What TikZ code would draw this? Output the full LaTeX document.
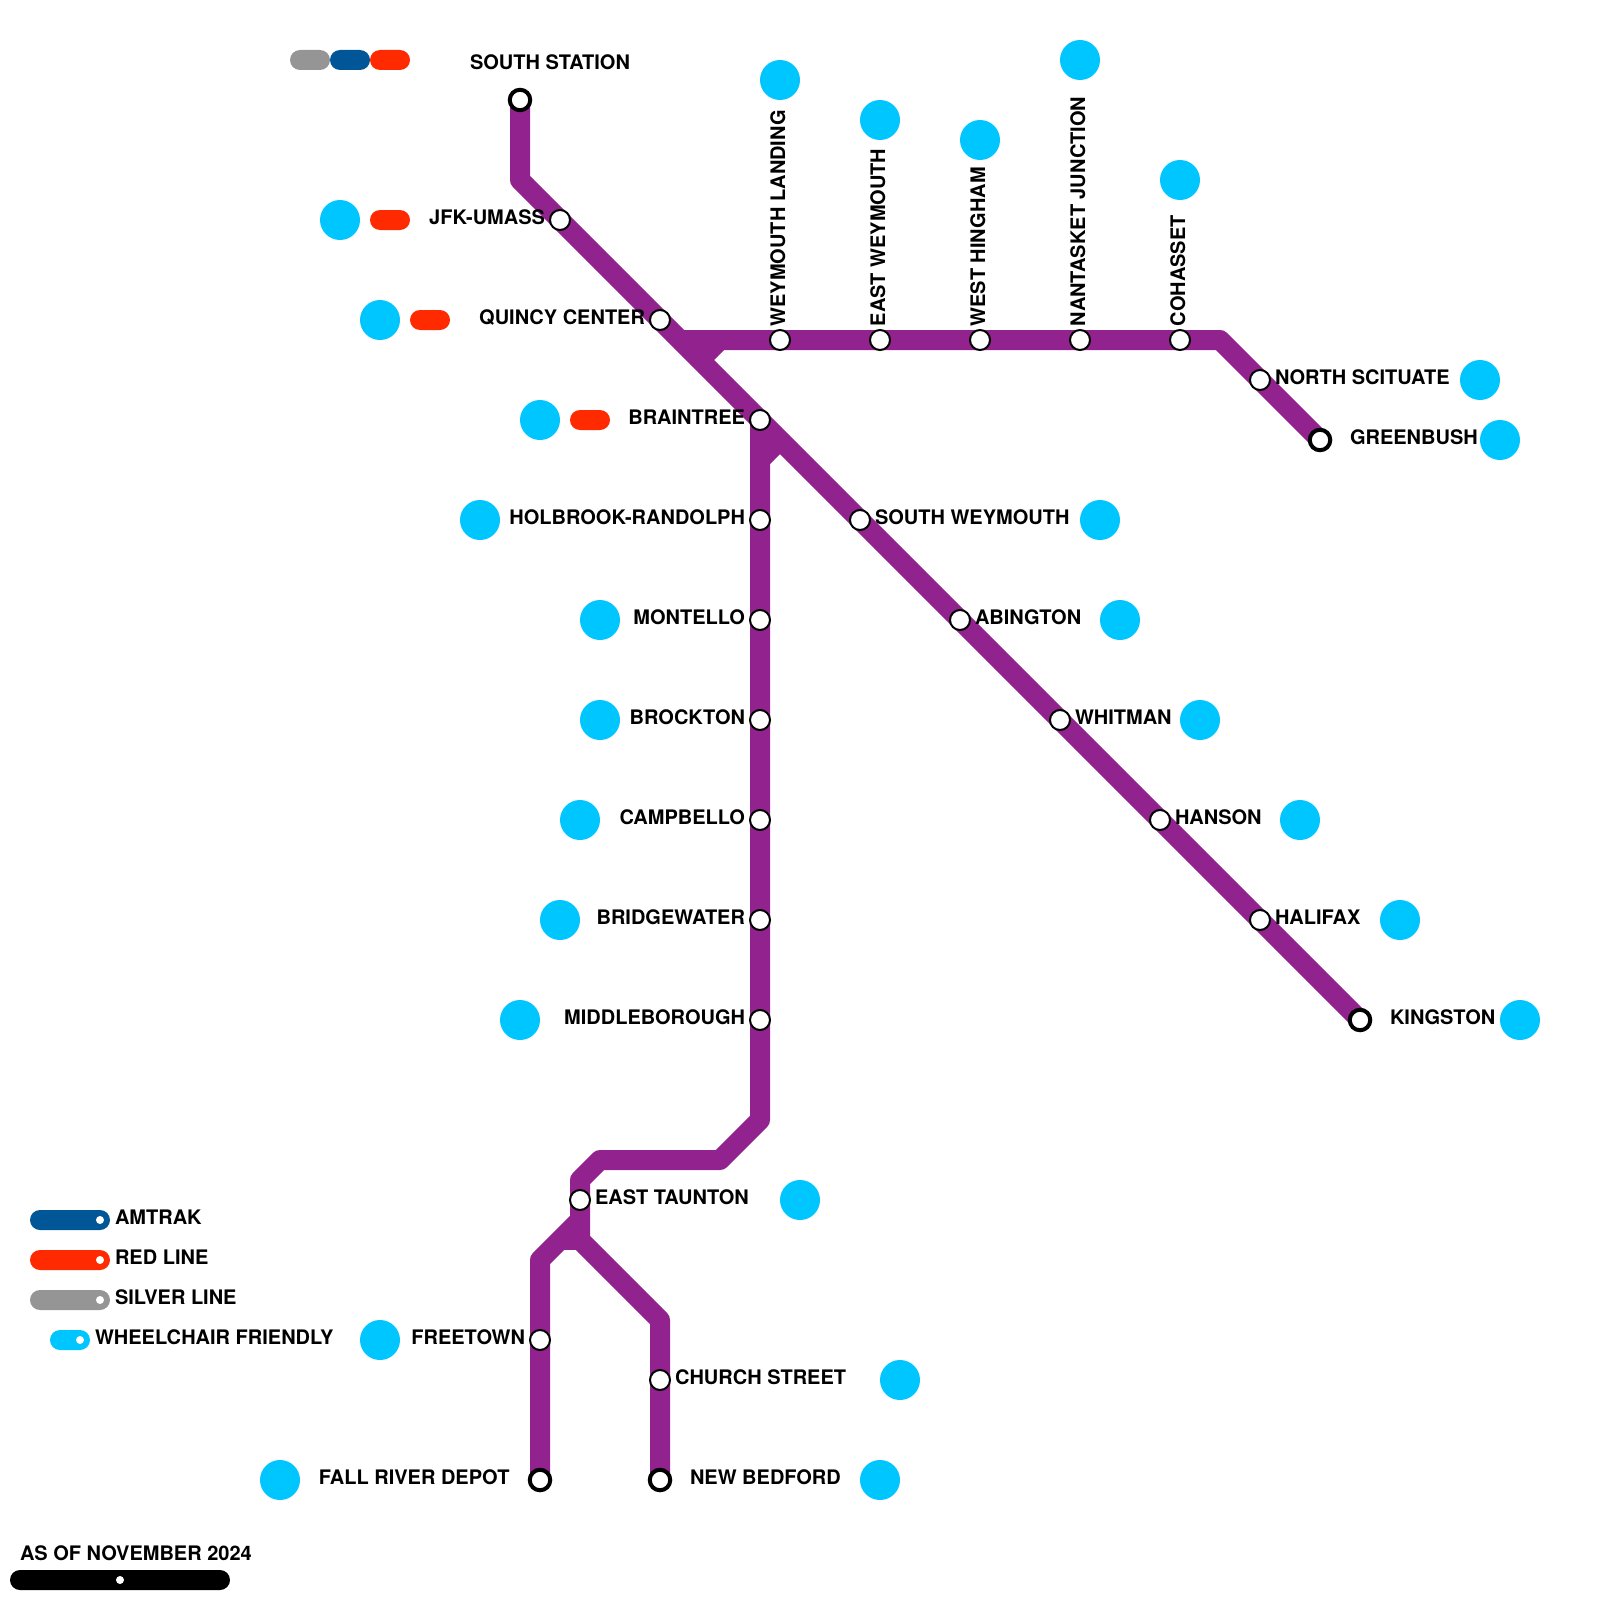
\documentclass[tikz,border=0pt]{standalone}
\usepackage{fontspec}
\setmainfont{TeX Gyre Heros}
\usetikzlibrary{positioning,backgrounds}
\definecolor{oldcolony}{HTML}{92228E}
\definecolor{access}{HTML}{00C6FF}
\definecolor{amtrak}{HTML}{005696}
\definecolor{redline}{HTML}{FF2A00}
\definecolor{silver}{HTML}{959595}

\begin{document}
\begin{tikzpicture}[x=1pt,y=-1pt,
    track/.style={draw=oldcolony, line width=20pt, line join=round},
    station/.style={circle, draw=black, fill=white, line width=2pt, minimum size=20pt, inner sep=0pt, outer sep=0pt},
    terminal/.style={circle, draw=black, fill=white, line width=4pt, minimum size=20.5pt, inner sep=0pt, outer sep=0pt},
    wheel/.style={circle, fill=access, minimum size=40pt, inner sep=0pt, outer sep=0pt},
    pill/.style={rectangle, rounded corners=10pt, minimum height=20pt, minimum width=40pt, inner sep=0pt, outer sep=0pt},
    pip/.style={circle, fill=white, minimum size=8pt, inner sep=0pt, outer sep=0pt},
    lbl/.style={font=\bfseries\fontsize{20}{24}\selectfont, inner sep=0pt, outer sep=0pt, text height=14.3pt, text depth=0pt, yshift=3pt}]
    \useasboundingbox (0,0) rectangle (1600,1600);

    %% Main line, Kingston branch
    \node[terminal] (south) at (520,100) {};
    \node[station] (jfk) at (560,220) {};
    \node[station] (quincy) at (660,320) {};
    \node[station] (sweymouth) at (860,520) {};
    \node[station] (abington) at (960,620) {};
    \node[station] (whitman) at (1060,720) {};
    \node[station] (hanson) at (1160,820) {};
    \node[station] (halifax) at (1260,920) {};
    \node[terminal] (kingston) at (1360,1020) {};

    %% Greenbush branch
    \node[station] (landing) at (780,340) {};
    \node[station] (eweymouth) at (880,340) {};
    \node[station] (hingham) at (980,340) {};
    \node[station] (nantasket) at (1080,340) {};
    \node[station] (cohasset) at (1180,340) {};
    \node[station] (scituate) at (1260,380) {};
    \node[terminal] (greenbush) at (1320,440) {};

    %% Middleborough branch
    \node[station] (braintree) at (760,420) {};
    \node[station] (holbrook) at (760,520) {};
    \node[station] (montello) at (760,620) {};
    \node[station] (brockton) at (760,720) {};
    \node[station] (campbello) at (760,820) {};
    \node[station] (bridgewater) at (760,920) {};
    \node[station] (middleborough) at (760,1020) {};
    \node[station] (taunton) at (580,1200) {};
    \node[station] (freetown) at (540,1340) {};
    \node[terminal] (fallriver) at (540,1480) {};
    \node[station] (church) at (660,1380) {};
    \node[terminal] (bedford) at (660,1480) {};

    %% Bends and junctions
    \coordinate (bendA) at (520,180);
    \coordinate (wyeA) at (680,340);
    \coordinate (hookA) at (700,360);
    \coordinate (hookB) at (720,340);
    \coordinate (bendB) at (1220,340);
    \coordinate (hookC) at (780,440);
    \coordinate (hookD) at (760,460);
    \coordinate (bendC) at (760,1120);
    \coordinate (bendD) at (720,1160);
    \coordinate (bendE) at (600,1160);
    \coordinate (bendF) at (580,1180);
    \coordinate (wyeB) at (580,1240);
    \coordinate (wyeC) at (580,1220);
    \coordinate (wyeD) at (560,1240);
    \coordinate (bendG) at (660,1320);
    \coordinate (bendH) at (540,1260);

    \begin{scope}[on background layer]
        \draw[track] (south.center) -- (bendA) -- (kingston.center);
        \draw[track] (wyeA) -- (bendB) -- (greenbush.center);
        \draw[track] (hookA) -- (hookB);
        \draw[track] (hookC) -- (hookD);
        \draw[track] (braintree.center) -- (bendC) -- (bendD) -- (bendE) -- (bendF) -- (wyeB) -- (bendG) -- (bedford.center);
        \draw[track] (wyeC) -- (bendH) -- (fallriver.center);
        \draw[track] (wyeD) -- (wyeB);
    \end{scope}

    %% Station names
    \node[lbl, above=16.75pt of south, xshift=30pt] (southname) {SOUTH STATION};
    \node[lbl, left=5pt of jfk] (jfkname) {JFK-UMASS};
    \node[lbl, left=5pt of quincy] (quincyname) {QUINCY CENTER};
    \node[lbl, right=5pt of sweymouth] (sweymouthname) {SOUTH WEYMOUTH};
    \node[lbl, right=5pt of abington] (abingtonname) {ABINGTON};
    \node[lbl, right=5pt of whitman] (whitmanname) {WHITMAN};
    \node[lbl, right=5pt of hanson] (hansonname) {HANSON};
    \node[lbl, right=5pt of halifax] (halifaxname) {HALIFAX};
    \node[lbl, right=19.75pt of kingston] (kingstonname) {KINGSTON};
    \node[lbl, rotate=90, above=0.75pt of landing, anchor=west, yshift=2pt] (landingname) {WEYMOUTH LANDING};
    \node[lbl, rotate=90, above=0.75pt of eweymouth, anchor=west, yshift=2pt] (eweymouthname) {EAST WEYMOUTH};
    \node[lbl, rotate=90, above=0.75pt of hingham, anchor=west, yshift=2pt] (hinghamname) {WEST HINGHAM};
    \node[lbl, rotate=90, above=0.75pt of nantasket, anchor=west, yshift=2pt] (nantasketname) {NANTASKET JUNCTION};
    \node[lbl, rotate=90, above=0.75pt of cohasset, anchor=west, yshift=2pt] (cohassetname) {COHASSET};
    \node[lbl, right=5pt of scituate] (scituatename) {NORTH SCITUATE};
    \node[lbl, right=19.75pt of greenbush] (greenbushname) {GREENBUSH};
    \node[lbl, left=5pt of braintree] (braintreename) {BRAINTREE};
    \node[lbl, left=5pt of holbrook] (holbrookname) {HOLBROOK-RANDOLPH};
    \node[lbl, left=5pt of montello] (montelloname) {MONTELLO};
    \node[lbl, left=5pt of brockton] (brocktonname) {BROCKTON};
    \node[lbl, left=5pt of campbello] (campbelloname) {CAMPBELLO};
    \node[lbl, left=5pt of bridgewater] (bridgewatername) {BRIDGEWATER};
    \node[lbl, left=5pt of middleborough] (middleboroughname) {MIDDLEBOROUGH};
    \node[lbl, right=5pt of taunton] (tauntonname) {EAST TAUNTON};
    \node[lbl, left=5pt of freetown] (freetownname) {FREETOWN};
    \node[lbl, left=20.25pt of fallriver] (fallrivername) {FALL RIVER DEPOT};
    \node[lbl, right=5pt of church] (churchname) {CHURCH STREET};
    \node[lbl, right=19.75pt of bedford] (bedfordname) {NEW BEDFORD};

    %% Wheelchair dots
    \node[wheel] (wlanding) at (780,80) {};
    \node[wheel] (weweymouth) at (880,120) {};
    \node[wheel] (whingham) at (980,140) {};
    \node[wheel] (wnantasket) at (1080,60) {};
    \node[wheel] (wcohasset) at (1180,180) {};
    \node[wheel] (wscituate) at (1480,380) {};
    \node[wheel] (wgreenbush) at (1500,440) {};
    \node[wheel] (wsweymouth) at (1100,520) {};
    \node[wheel] (wabington) at (1120,620) {};
    \node[wheel] (wwhitman) at (1200,720) {};
    \node[wheel] (whanson) at (1300,820) {};
    \node[wheel] (whalifax) at (1400,920) {};
    \node[wheel] (wkingston) at (1520,1020) {};
    \node[wheel] (wtaunton) at (800,1200) {};
    \node[wheel] (wchurch) at (900,1380) {};
    \node[wheel] (wbedford) at (880,1480) {};
    \node[wheel] (wfallriver) at (280,1480) {};
    \node[wheel] (wfreetown) at (380,1340) {};
    \node[wheel] (wjfk) at (340,220) {};
    \node[wheel] (wquincy) at (380,320) {};
    \node[wheel] (wbraintree) at (540,420) {};
    \node[wheel] (wholbrook) at (480,520) {};
    \node[wheel] (wmontello) at (600,620) {};
    \node[wheel] (wbrockton) at (600,720) {};
    \node[wheel] (wcampbello) at (580,820) {};
    \node[wheel] (wbridgewater) at (560,920) {};
    \node[wheel] (wmiddleborough) at (520,1020) {};

    %% Connections
    \node[pill, fill=silver] (southsilver) at (310,60) {};
    \node[pill, fill=amtrak] (southamtrak) at (350,60) {};
    \node[pill, fill=redline] (southred) at (390,60) {};
    \node[pill, fill=redline] (jfkred) at (390,220) {};
    \node[pill, fill=redline] (quincyred) at (430,320) {};
    \node[pill, fill=redline] (braintreered) at (590,420) {};

    %% Legend
    \node[pill, fill=amtrak, minimum width=80pt] (keyamtrak) at (70,1220) {};
    \node[pip] (pipamtrak) at (100,1220) {};
    \node[lbl, right=5pt of keyamtrak] (keyamtrakname) {AMTRAK};
    \node[pill, fill=redline, minimum width=80pt] (keyred) at (70,1260) {};
    \node[pip] (pipred) at (100,1260) {};
    \node[lbl, right=5pt of keyred] (keyredname) {RED LINE};
    \node[pill, fill=silver, minimum width=80pt] (keysilver) at (70,1300) {};
    \node[pip] (pipsilver) at (100,1300) {};
    \node[lbl, right=5pt of keysilver] (keysilvername) {SILVER LINE};
    \node[pill, fill=access] (keywheel) at (70,1340) {};
    \node[pip] (pipwheel) at (80,1340) {};
    \node[lbl, right=5pt of keywheel] (keywheelname) {WHEELCHAIR FRIENDLY};

    %% Date bar
    \node[pill, fill=black, minimum width=220pt] (datebar) at (120,1580) {};
    \node[pip] (pipdate) at (120,1580) {};
    \node[lbl, anchor=west] (datename) at (20,1556) {AS OF NOVEMBER 2024};
\end{tikzpicture}
\end{document}
